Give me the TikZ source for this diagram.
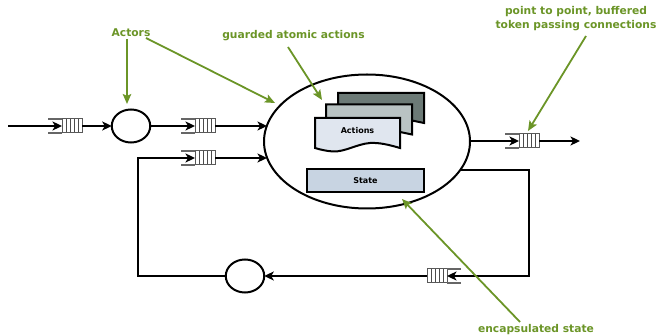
\documentclass[tikz,border=0pt]{standalone}
\usepackage{fontspec}
\setmainfont{DejaVu Sans}
\usetikzlibrary{arrows.meta,shapes.geometric}
\definecolor{leaf}{HTML}{6B9527}
\definecolor{docback}{HTML}{6C7A76}
\definecolor{docmid}{HTML}{B9C3C3}
\definecolor{docfront}{HTML}{E0E6EF}
\definecolor{statefill}{HTML}{C8D4E2}
\tikzset{
  x=1pt,y=-1pt,
  wire/.style={line width=2pt,-{Stealth[length=9.5pt,width=9pt,inset=2.5pt]}},
  note/.style={leaf,-{Stealth[length=10pt,width=8.5pt,inset=2pt]},line width=1.8pt},
  notetext/.style={text=leaf,font=\bfseries\fontsize{10.7}{13.5}\selectfont,align=center,inner sep=0pt},
  actor/.style={ellipse,draw,line width=2pt,minimum width=38.5pt,minimum height=33pt,inner sep=0pt,outer sep=0pt,fill=white},
  bigactor/.style={ellipse,draw,line width=2pt,minimum width=206pt,minimum height=134pt,inner sep=0pt,outer sep=0pt},
  queuebox/.style={rectangle,draw=black!65,line width=1pt,minimum width=20pt,minimum height=14pt,inner sep=0pt,outer sep=0pt,fill=white,
    path picture={\foreach \k in {-6,-2,2,6}{\draw[black!70,line width=.75pt] ([xshift=\k pt]path picture bounding box.north) -- ([xshift=\k pt]path picture bounding box.south);}}},
  wing/.style={black!60,line width=1.1pt},
  doc/.style={draw,line width=2pt,line join=miter},
  lab/.style={font=\bfseries\fontsize{8}{9}\selectfont,inner sep=0pt},
}
\newcommand{\lqueue}[3]{\node[queuebox] (#1) at (#2,#3) {};
  \draw[wing] (#1.north west) -- ++(-14,0) (#1.south west) -- ++(-14,0);}
\newcommand{\rqueue}[3]{\node[queuebox] (#1) at (#2,#3) {};
  \draw[wing] (#1.north east) -- ++(14,0) (#1.south east) -- ++(14,0);}
\begin{document}
\begin{tikzpicture}
\useasboundingbox (0,0) rectangle (656,336);
% actors
\node[actor] (a1) at (131,126) {};
\node[actor] (a2) at (245,276) {};
\node[bigactor] (big) at (367,141.5) {};
% queues
\lqueue{q1}{72}{126}
\lqueue{q2}{205}{126}
\lqueue{q3}{205}{158}
\lqueue{q4}{529}{141}
\rqueue{q5}{437}{276}
% free ends
\coordinate (in) at (8,126);
\coordinate (out) at (580,141);
\coordinate (bigin1) at (267,126);
\coordinate (bigin2) at (267,158);
\coordinate (bigout) at (469.5,141);
\coordinate (bigexit) at (461,170);
\coordinate (cornerA) at (529,170);
\coordinate (cornerB) at (529,276);
\coordinate (cornerC) at (137.5,276);
\coordinate (cornerD) at (137.5,158);
% connectors
\draw[wire] (in) -- (q1.west);
\draw[wire] (q1.east) -- (a1.west);
\draw[wire] (a1.east) -- (q2.west);
\draw[wire] (q2.east) -- (bigin1);
\draw[wire] (q3.east) -- (bigin2);
\draw[wire] (bigout) -- (q4.west);
\draw[wire] (q4.east) -- (out);
\draw[wire] (bigexit) -- (cornerA) -- (cornerB) -- (q5.east);
\draw[wire] (q5.west) -- (a2.east);
\draw[wire] (a2.west) -- (cornerC) -- (cornerD) -- (q3.west);
% actions stack
\draw[doc,fill=docback] (338,93) -- (424,93) -- (424,123) -- (412,120.5) -- (338,120.5) -- cycle;
\draw[doc,fill=docmid] (326,104.5) -- (412,104.5) -- (412,134.5) -- (400,132) -- (326,132) -- cycle;
\draw[doc,fill=docfront] (315,118) -- (400,118) -- (400,148) .. controls (388,144.5) and (379,142.5) .. (370,143) .. controls (357,144) and (345,152) .. (333,151.5) .. controls (326,151) and (320,149.5) .. (315,148) -- cycle;
\node[lab] (actions) at (357.5,130.5) {Actions};
\node[draw,line width=2pt,fill=statefill,minimum width=117pt,minimum height=23pt,inner sep=0pt,outer sep=0pt,font=\bfseries\fontsize{8}{9}\selectfont] (state) at (365.5,180.5) {State};
% annotations
\node[notetext] (tactors) at (131,33) {Actors};
\node[notetext] (tguard) at (293.5,36) {guarded atomic actions};
\node[notetext] (tpoint) at (576,18.5) {point to point, buffered\\token passing connections};
\node[notetext] (tstate) at (536,330) {encapsulated state};
\coordinate (n1a) at (127,39);
\coordinate (n1b) at (127,104);
\coordinate (n2a) at (146,38);
\coordinate (n2b) at (275,103);
\coordinate (n3a) at (288,47);
\coordinate (n3b) at (322,100);
\coordinate (n4a) at (586,36);
\coordinate (n4b) at (528,131);
\coordinate (n5a) at (520,322);
\coordinate (n5b) at (402,199);
\draw[note] (n1a) -- (n1b);
\draw[note] (n2a) -- (n2b);
\draw[note] (n3a) -- (n3b);
\draw[note] (n4a) -- (n4b);
\draw[note] (n5a) -- (n5b);
\end{tikzpicture}
\end{document}
